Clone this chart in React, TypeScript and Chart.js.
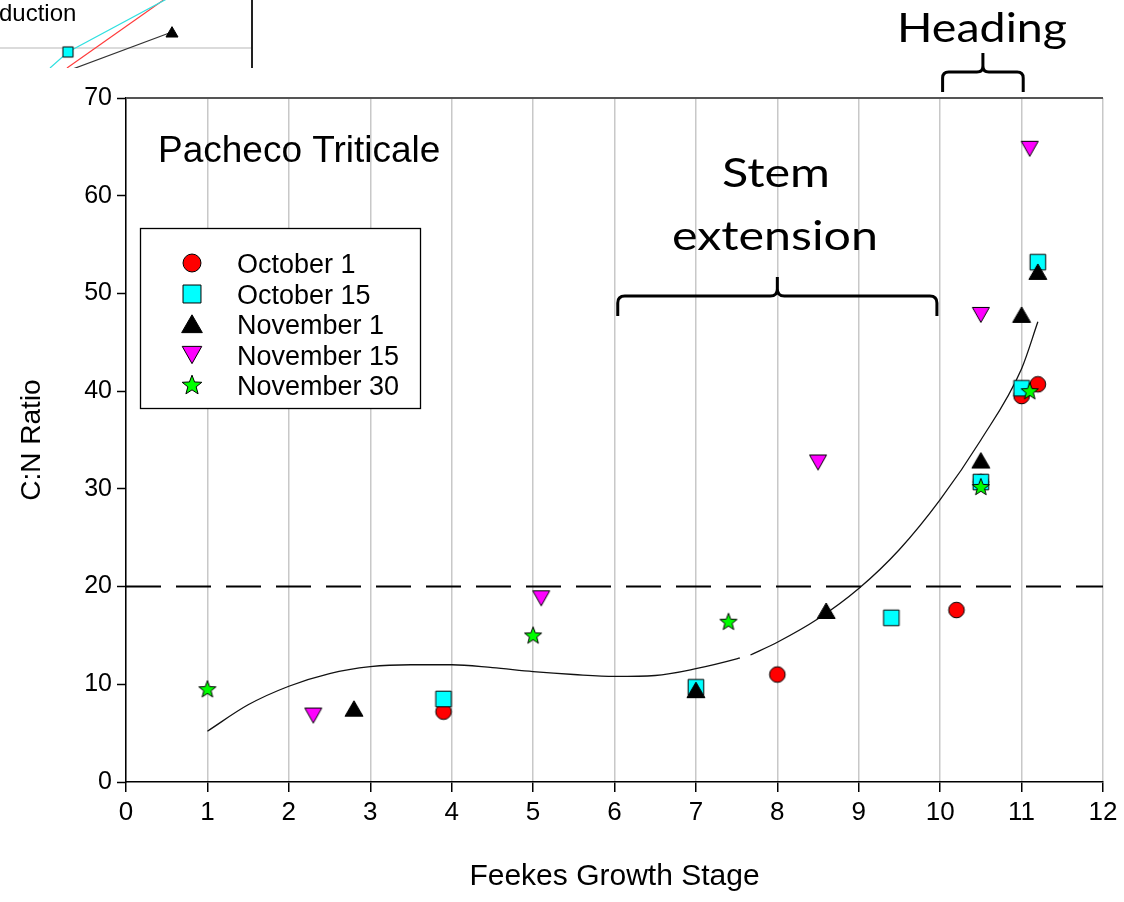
import React, { useEffect, useRef } from "react";
import { Chart, registerables } from "chart.js";
Chart.register(...registerables);

const ARIAL = '"Liberation Sans", Arial, sans-serif';
const CALIBRI = 'Lato, "Open Sans", sans-serif';

// ---------- data ----------
const seriesNames = ["October 1", "October 15", "November 1", "November 15", "November 30"];
const seriesColors = ["#ff0000", "#00ffff", "#000000", "#ff00ff", "#00ff00"];
const seriesShapes = ["circle", "square", "tri", "triDown", "star"];

const oct1X = [3.9, 8.0, 10.2, 10.5, 11.0, 11.2];
const oct1Y = [7.2, 11.0, 17.6, 30.7, 39.5, 40.7];
const oct15X = [3.9, 7.0, 9.4, 10.5, 11.0, 11.2];
const oct15Y = [8.5, 9.7, 16.8, 30.7, 40.3, 53.2];
const nov1X = [2.8, 7.0, 8.6, 10.5, 11.0, 11.2];
const nov1Y = [7.5, 9.4, 17.5, 32.9, 47.8, 52.2];
const nov15X = [2.3, 5.1, 8.5, 10.5, 11.1];
const nov15Y = [6.8, 18.8, 32.7, 47.8, 64.8];
const nov30X = [1.0, 5.0, 7.4, 10.5, 11.1];
const nov30Y = [9.5, 15.0, 16.4, 30.2, 40.0];

const fitX = [1, 1.5, 2, 2.5, 3, 3.5, 4, 4.5, 5, 5.5, 6, 6.5, 7, 7.5, 7.54, 7.6, 7.67, 8, 8.5, 9, 9.5, 10, 10.5, 11, 11.2];
const fitY = [5.2, 7.9, 9.8, 11.1, 11.8, 12.0, 12.0, 11.7, 11.3, 11.0, 10.8, 10.9, 11.6, 12.6, 12.7, null, 13.0, 14.3, 16.7, 19.8, 23.8, 28.9, 35.0, 42.3, 47.1];

const thresholdX = [0, 12];
const thresholdY = [20, 20];

const xTickValues = [0, 1, 2, 3, 4, 5, 6, 7, 8, 9, 10, 11, 12];
const yTickValues = [0, 10, 20, 30, 40, 50, 60, 70];

const chartTitle = "Pacheco Triticale";
const xTitle = "Feekes Growth Stage";
const yTitle = "C:N Ratio";
const stemLabel = ["Stem", "extension"];
const headingLabel = "Heading";
const stemRange = [6.04, 9.96];
const headingRange = [10.03, 11.02];

// fragment of a neighbouring figure (top-left corner)
const fragText = "duction";
const fragCyanX = [5.0, 6.8, 17.6];
const fragCyanY = [0, 1.6, 7.4];
const fragRedX = [6.7, 17.2];
const fragRedY = [0, 7.4];
const fragBlackX = [6.2, 17.2];
const fragBlackY = [-0.5, 3.6];
const fragGridX = [0, 25.2];
const fragGridY = [2.0, 2.0];
const fragEdgeX = [25.2, 25.2];
const fragEdgeY = [0, 6.8];

const pts = (xs: number[], ys: (number | null)[]) => xs.map((x, i) => ({ x, y: ys[i] }));

function makeMarker(kind: string, fill: string, s: number) {
  const size = Math.ceil(26 * s);
  const c = document.createElement("canvas");
  c.width = size;
  c.height = size;
  const ctx = c.getContext("2d")!;
  const m = size / 2;
  ctx.beginPath();
  if (kind === "circle") ctx.arc(m, m, 7.8 * s, 0, Math.PI * 2);
  else if (kind === "square") ctx.rect(m - 7.8 * s, m - 7.8 * s, 15.6 * s, 15.6 * s);
  else if (kind === "tri") {
    ctx.moveTo(m, m - 8 * s);
    ctx.lineTo(m + 9 * s, m + 7.5 * s);
    ctx.lineTo(m - 9 * s, m + 7.5 * s);
    ctx.closePath();
  } else if (kind === "triDown") {
    ctx.moveTo(m - 8.5 * s, m - 7.5 * s);
    ctx.lineTo(m + 8.5 * s, m - 7.5 * s);
    ctx.lineTo(m, m + 7.5 * s);
    ctx.closePath();
  } else {
    for (let i = 0; i < 10; i++) {
      const r = i % 2 === 0 ? 9 * s : 3.8 * s;
      const a = -Math.PI / 2 + (i * Math.PI) / 5;
      const px = m + r * Math.cos(a);
      const py = m + 0.5 + r * Math.sin(a);
      if (i === 0) ctx.moveTo(px, py);
      else ctx.lineTo(px, py);
    }
    ctx.closePath();
  }
  ctx.fillStyle = fill;
  ctx.fill();
  ctx.lineWidth = 1;
  ctx.strokeStyle = "#000";
  ctx.stroke();
  return c;
}

function drawBrace(ctx: CanvasRenderingContext2D, x1: number, x2: number, yLine: number, yEnd: number, yTip: number, r: number) {
  const xm = (x1 + x2) / 2;
  ctx.beginPath();
  ctx.moveTo(x1, yEnd);
  ctx.lineTo(x1, yLine + r);
  ctx.quadraticCurveTo(x1, yLine, x1 + r, yLine);
  ctx.lineTo(xm - r, yLine);
  ctx.quadraticCurveTo(xm, yLine, xm, yLine - r);
  ctx.lineTo(xm, yTip);
  ctx.moveTo(x2, yEnd);
  ctx.lineTo(x2, yLine + r);
  ctx.quadraticCurveTo(x2, yLine, x2 - r, yLine);
  ctx.lineTo(xm + r, yLine);
  ctx.quadraticCurveTo(xm, yLine, xm, yLine - r);
  ctx.stroke();
}

function fitText(ctx: CanvasRenderingContext2D, text: string, cx: number, baseline: number, width: number) {
  const w = ctx.measureText(text).width;
  ctx.save();
  ctx.translate(cx, baseline);
  ctx.scale(width / w, 1);
  ctx.textAlign = "center";
  ctx.textBaseline = "alphabetic";
  ctx.fillText(text, 0, 0);
  ctx.restore();
}

export default function App() {
  const mainRef = useRef<HTMLCanvasElement>(null);
  const fragRef = useRef<HTMLCanvasElement>(null);

  useEffect(() => {
    const markers = seriesShapes.map((k, i) => makeMarker(k, seriesColors[i], 1));
    const legendMarkers = seriesShapes.map((k, i) => makeMarker(k, seriesColors[i], 1.15));
    const seriesX = [oct1X, oct15X, nov1X, nov15X, nov30X];
    const seriesY = [oct1Y, oct15Y, nov1Y, nov15Y, nov30Y];

    const annot = {
      id: "annot",
      afterDatasetsDraw(chart: any) {
        const { ctx, chartArea: ca, scales } = chart;
        const x = scales.x;
        ctx.save();
        // top frame
        ctx.strokeStyle = "#555";
        ctx.lineWidth = 2;
        ctx.beginPath();
        ctx.moveTo(ca.left, ca.top);
        ctx.lineTo(ca.right, ca.top);
        ctx.stroke();

        // chart title
        ctx.fillStyle = "#000";
        ctx.font = `37px ${ARIAL}`;
        ctx.textAlign = "left";
        ctx.textBaseline = "alphabetic";
        ctx.fillText(chartTitle, 158, 162);

        // legend
        ctx.fillStyle = "#fff";
        ctx.fillRect(140, 228, 280, 180);
        ctx.strokeStyle = "#000";
        ctx.lineWidth = 1.3;
        ctx.strokeRect(140.5, 228.5, 280, 180);
        const rows = [263, 294, 324, 355, 385];
        ctx.font = `27px ${ARIAL}`;
        ctx.fillStyle = "#000";
        seriesNames.forEach((n, i) => {
          const mk = legendMarkers[i];
          ctx.drawImage(mk, 192 - mk.width / 2, rows[i] - mk.height / 2);
          ctx.fillText(n, 237, rows[i] + 9.5);
        });

        // braces
        ctx.strokeStyle = "#000";
        ctx.lineWidth = 3;
        drawBrace(ctx, x.getPixelForValue(stemRange[0]), x.getPixelForValue(stemRange[1]), 296, 316, 277, 7);
        drawBrace(ctx, x.getPixelForValue(headingRange[0]), x.getPixelForValue(headingRange[1]), 72, 92, 53, 6);

        // brace labels
        ctx.fillStyle = "#000";
        ctx.font = `40px ${CALIBRI}`;
        fitText(ctx, stemLabel[0], 776, 187, 108);
        fitText(ctx, stemLabel[1], 775, 250, 206);
        fitText(ctx, headingLabel, 982, 42, 170);
        ctx.restore();
      },
    };

    const scatterSets = seriesNames.map((n, i) => ({
      label: n,
      data: pts(seriesX[i], seriesY[i]),
      pointStyle: markers[i],
      pointRadius: 8,
      showLine: false,
      order: 4 - i,
    }));

    const main = new Chart(mainRef.current!, {
      type: "scatter",
      data: {
        datasets: [
          ...scatterSets,
          {
            label: "fit",
            data: pts(fitX, fitY),
            showLine: true,
            spanGaps: false,
            borderColor: "#111",
            borderWidth: 1.3,
            pointRadius: 0,
            cubicInterpolationMode: "monotone",
            order: 5,
          },
          {
            label: "threshold",
            data: pts(thresholdX, thresholdY),
            showLine: true,
            borderColor: "#000",
            borderWidth: 2,
            borderDash: [35, 15],
            pointRadius: 0,
            order: 6,
          },
        ] as any,
      },
      options: {
        animation: false,
        responsive: false,
        maintainAspectRatio: false,
        layout: { autoPadding: false, padding: { top: 98, right: 21, left: 0, bottom: 0 } },
        plugins: { legend: { display: false }, tooltip: { enabled: false } },
        scales: {
          x: {
            type: "linear",
            min: 0,
            max: 12,
            afterBuildTicks: (s: any) => {
              s.ticks = xTickValues.map((v) => ({ value: v }));
            },
            ticks: { color: "#000", font: { family: ARIAL, size: 26 }, padding: 5, maxRotation: 0 },
            grid: { color: "#c8c8c8", lineWidth: 1.5, tickColor: "#000", tickLength: 10, tickWidth: 1.5 },
            border: { color: "#000", width: 1.5 },
            title: { display: true, text: xTitle, color: "#000", font: { family: ARIAL, size: 30 }, padding: { top: 0, bottom: 7 } },
            afterFit: (s: any) => {
              s.height = 120;
            },
          },
          y: {
            type: "linear",
            min: 0,
            max: 70,
            afterBuildTicks: (s: any) => {
              s.ticks = yTickValues.map((v) => ({ value: v }));
            },
            ticks: { color: "#000", font: { family: ARIAL, size: 25 }, padding: 5 },
            grid: { drawOnChartArea: false, tickColor: "#000", tickLength: 9, tickWidth: 1.5 },
            border: { color: "#000", width: 1.5 },
            title: { display: true, text: yTitle, color: "#000", font: { family: ARIAL, size: 28 }, padding: { top: 15, bottom: 0 } },
            afterFit: (s: any) => {
              s.width = 126;
            },
          },
        },
      } as any,
      plugins: [annot],
    });

    const fragSquare = makeMarker("square", "#00ffff", 0.65);
    const fragTri = makeMarker("tri", "#000000", 0.67);
    const fragPlugin = {
      id: "fragText",
      afterDatasetsDraw(chart: any) {
        const { ctx } = chart;
        ctx.save();
        ctx.fillStyle = "#000";
        ctx.font = `24px ${ARIAL}`;
        ctx.textBaseline = "alphabetic";
        ctx.fillText(fragText, -1, 21);
        ctx.restore();
      },
    };
    const frag = new Chart(fragRef.current!, {
      type: "scatter",
      data: {
        datasets: [
          { data: pts(fragGridX, fragGridY), showLine: true, borderColor: "#cfcfcf", borderWidth: 1.5, pointRadius: 0, order: 5 },
          { data: pts(fragEdgeX, fragEdgeY), showLine: true, borderColor: "#222", borderWidth: 2, pointRadius: 0, order: 4 },
          { data: pts(fragRedX, fragRedY), showLine: true, borderColor: "#ff3b3b", borderWidth: 1.2, pointRadius: 0, order: 2 },
          {
            data: pts(fragBlackX, fragBlackY),
            showLine: true,
            borderColor: "#333",
            borderWidth: 1.2,
            pointStyle: fragTri,
            pointRadius: [0, 6],
            order: 1,
          },
          {
            data: pts(fragCyanX, fragCyanY),
            showLine: true,
            borderColor: "#30e0e0",
            borderWidth: 1.2,
            pointStyle: fragSquare,
            pointRadius: [0, 6, 0],
            order: 0,
          },
        ] as any,
      },
      options: {
        animation: false,
        responsive: false,
        maintainAspectRatio: false,
        layout: { autoPadding: false, padding: 0 },
        plugins: { legend: { display: false }, tooltip: { enabled: false } },
        scales: {
          x: { type: "linear", min: 0, max: 25.5, display: false },
          y: { type: "linear", min: 0, max: 6.8, display: false },
        },
      } as any,
      plugins: [fragPlugin],
    });

    return () => {
      main.destroy();
      frag.destroy();
    };
  }, []);

  return (
    <div style={{ position: "absolute", left: 0, top: 0, width: 1124, height: 902, background: "#fff" }}>
      <canvas ref={mainRef} width={1124} height={902} style={{ position: "absolute", left: 0, top: 0, display: "block" }} />
      <canvas ref={fragRef} width={255} height={68} style={{ position: "absolute", left: 0, top: 0, display: "block" }} />
    </div>
  );
}
